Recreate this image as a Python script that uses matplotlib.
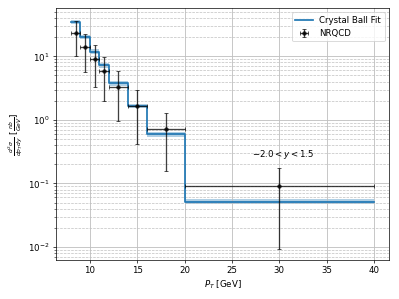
import numpy as np
import matplotlib
matplotlib.use("Agg")
import matplotlib.pyplot as plt

# Data
bin_edges = [8, 9, 10, 11, 12, 14, 16, 20, 40]
fit_values = [34.7, 20.1, 11.9, 7.2, 3.76, 1.65, 0.59, 0.0515]
fit_rel_err = [0.08, 0.08, 0.08, 0.08, 0.08, 0.08, 0.08, 0.09]

pt_centers = [8.5, 9.5, 10.5, 11.5, 13, 15, 18, 30]
pt_halfwidth = [0.5, 0.5, 0.5, 0.5, 1, 1, 2, 10]
nrqcd_values = [23.6, 14.2, 9.2, 5.9, 3.33, 1.65, 0.73, 0.091]
nrqcd_up = [36.0, 22.8, 14.9, 9.8, 5.8, 2.95, 1.27, 0.172]
nrqcd_down = [10.1, 5.66, 3.33, 1.95, 0.95, 0.41, 0.155, 0.0092]

fig = plt.figure(figsize=(6.4, 4.8), dpi=399/6.4)
ax = fig.add_axes([0.140, 0.130, 0.835, 0.843])

vals = np.array(fit_values)
rel = np.array(fit_rel_err)
lo = vals * (1 - rel)
hi = vals * (1 + rel)
edges = np.array(bin_edges)

ax.fill_between(edges, np.append(lo, lo[-1]), np.append(hi, hi[-1]),
                step='post', color='C0', alpha=0.35, linewidth=0)
ax.plot(edges, np.append(vals, vals[-1]), drawstyle='steps-post',
        color='C0', lw=2, label='Crystal Ball Fit')

yv = np.array(nrqcd_values)
yerr = [yv - np.array(nrqcd_down), np.array(nrqcd_up) - yv]
ax.errorbar(pt_centers, yv, xerr=pt_halfwidth, yerr=yerr, fmt='o', color='k',
            ecolor='k', alpha=0.75, markersize=4, capsize=2, elinewidth=1.5,
            label='NRQCD')

ax.set_yscale('log')
ax.set_xlim(6.4, 41.6)
ax.set_ylim(0.0062, 58)
ax.grid(True, which='major', color='#c0c0c0', lw=1)
ax.grid(True, which='minor', axis='y', color='#c0c0c0', ls='--', lw=0.8)

ax.text(30.4, 0.29, r'$-2.0 < y < 1.5$', ha='center', va='center', fontsize=10)

ax.set_xlabel(r'$P_T$ [GeV]')
ax.set_ylabel(r'$\frac{d^2\sigma}{dp_T dy}$ $[\frac{nb}{GeV}]$')
ax.legend(loc='upper right')

fig.savefig('out.png', dpi=399/6.4)
